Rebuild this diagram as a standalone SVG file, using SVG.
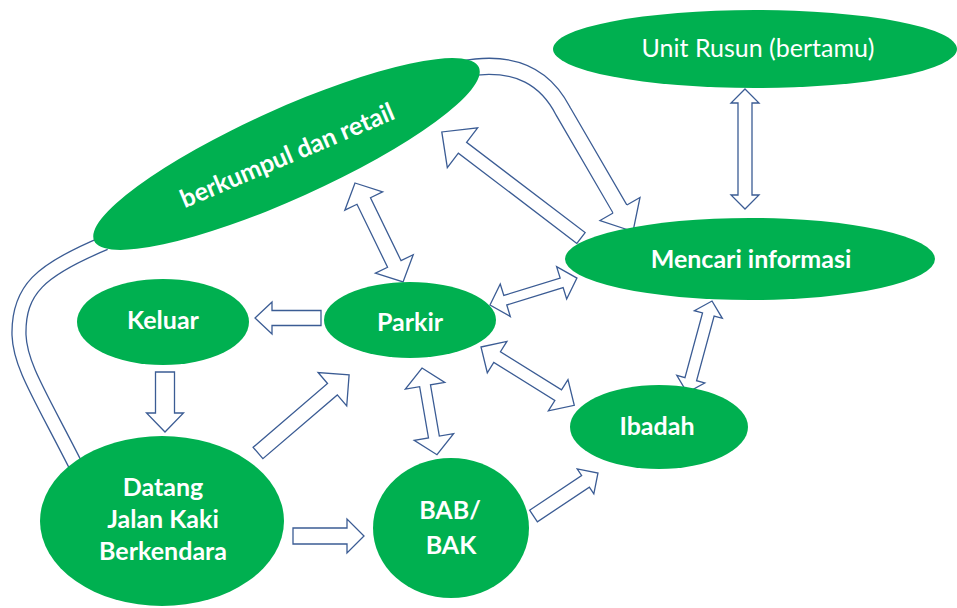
<svg xmlns="http://www.w3.org/2000/svg" width="957" height="608" viewBox="0 0 957 608">
<style>
.node{fill:#00B050;}
.arr{fill:#FFFFFF;stroke:#3B5C94;stroke-width:1.3;stroke-linejoin:miter;}
.bandO{fill:none;stroke:#3B5C94;}
.bandI{fill:none;stroke:#FFFFFF;}
.lbl{font-family:Lato,"Open Sans","Liberation Sans",sans-serif;font-weight:bold;font-size:25px;fill:#FFFFFF;text-anchor:middle;}
.lblr{font-family:Lato,"Open Sans","Liberation Sans",sans-serif;font-weight:normal;font-size:25px;fill:#FFFFFF;text-anchor:middle;}
</style>
<rect width="957" height="608" fill="#FFFFFF"/>
<g id="connectors">
  <path class="bandO" stroke-width="15.3" d="M105,243 C40,270 18,290 19,335 C20,365 40,395 76,466"/>
  <path class="bandI" stroke-width="12.7" d="M105,243 C40,270 18,290 19,335 C20,365 40,395 76,466"/>
  <path class="bandO" stroke-width="17.3" d="M462,69 C520,58 548,82 563,111 L620,209"/>
  <path class="bandI" stroke-width="14.7" d="M462,69 C520,58 548,82 563,111 L620.5,210"/>
  <path class="arr" d="M613.1,213 L600,220.5 L633,231.5 L640,197.5 L626.9,205"/>
  <path class="arr" transform="translate(321,318) rotate(180)" d="M0,-7.5 H49 V-16 L66,0 L49,16 V7.5 H0 Z"/>
  <path class="arr" transform="translate(165,372) rotate(90)" d="M0,-9.5 H41 V-18.5 L60,0 L41,18.5 V9.5 H0 Z"/>
  <path class="arr" transform="translate(258,453) rotate(-40.6)" d="M0,-7.5 H98 V-22 L120,0 L98,22 V7.5 H0 Z"/>
  <path class="arr" transform="translate(293,536) rotate(0)" d="M0,-8 H54 V-17 L71,0 L54,17 V8 H0 Z"/>
  <path class="arr" transform="translate(533.5,516) rotate(-33.7)" d="M0,-7 H62.5 V-15 L77.5,0 L62.5,15 V7 H0 Z"/>
  <path class="arr" transform="translate(581,238) rotate(-142.7)" d="M0,-6.8 H149 V-25 L175,0 L149,25 V6.8 H0 Z"/>
  <path class="arr" transform="translate(355,183) rotate(64.1)" d="M0,0 L20,-21 V-7.5 H90 V-21 L110,0 L90,21 V7.5 H20 V21 Z"/>
  <path class="arr" transform="translate(490,305) rotate(-17.2)" d="M0,0 L16,-17 V-5 H75 V-17 L91,0 L75,17 V5 H16 V17 Z"/>
  <path class="arr" transform="translate(481,347) rotate(32)" d="M0,0 L19,-18.5 V-6.3 H91 V-18.5 L110,0 L91,18.5 V6.3 H19 V18.5 Z"/>
  <path class="arr" transform="translate(745,89) rotate(90)" d="M0,0 L14,-14 V-7 H106 V-14 L120,0 L106,14 V7 H14 V14 Z"/>
  <path class="arr" transform="translate(712,301) rotate(105.2)" d="M0,0 L14,-14.5 V-6 H81 V-14.5 L95,0 L81,14.5 V6 H14 V14.5 Z"/>
  <path class="arr" transform="translate(422,368) rotate(80.2)" d="M0,0 L18,-20 V-5.5 H70 V-20 L88,0 L70,20 V5.5 H18 V20 Z"/>
</g>
<g id="node-unit">
  <ellipse class="node" cx="755" cy="49" rx="202" ry="39"/>
  <text class="lblr" x="758" y="57">Unit Rusun (bertamu)</text>
</g>
<g id="node-berkumpul">
  <ellipse class="node" cx="286.5" cy="154" rx="211" ry="45" transform="rotate(-24.25 286.5 154)"/>
  <text class="lbl" x="287" y="164" transform="rotate(-23 287 155)">berkumpul dan retail</text>
</g>
<g id="node-mencari">
  <ellipse class="node" cx="750" cy="259" rx="185" ry="41"/>
  <text class="lbl" x="751" y="268">Mencari informasi</text>
</g>
<g id="node-keluar">
  <ellipse class="node" cx="163" cy="322" rx="86" ry="43"/>
  <text class="lbl" x="163" y="329">Keluar</text>
</g>
<g id="node-parkir">
  <ellipse class="node" cx="410" cy="320" rx="86" ry="38"/>
  <text class="lbl" x="410" y="331">Parkir</text>
</g>
<g id="node-ibadah">
  <ellipse class="node" cx="659" cy="427" rx="89" ry="42"/>
  <text class="lbl" x="657" y="435">Ibadah</text>
</g>
<g id="node-bab">
  <ellipse class="node" cx="451" cy="528" rx="78" ry="70"/>
  <text class="lbl" x="450" y="519">BAB/</text>
  <text class="lbl" x="451" y="554">BAK</text>
</g>
<g id="node-datang">
  <ellipse class="node" cx="162" cy="521" rx="122" ry="85"/>
  <text class="lbl" x="163" y="496">Datang</text>
  <text class="lbl" x="163" y="528">Jalan Kaki</text>
  <text class="lbl" x="163" y="560">Berkendara</text>
</g>
</svg>
